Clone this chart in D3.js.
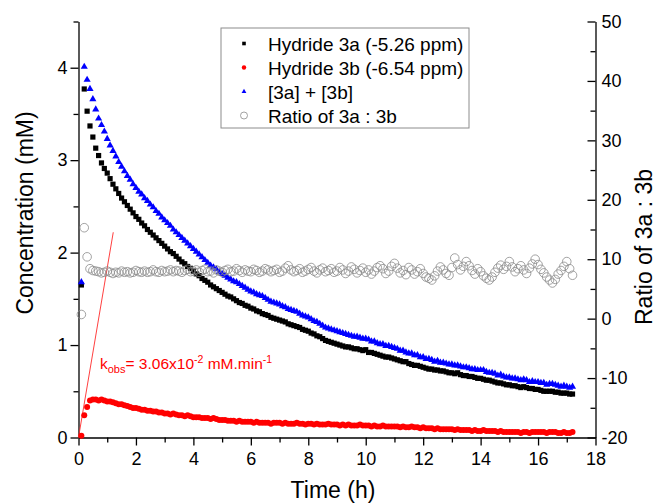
<!DOCTYPE html>
<html lang="en">
<head>
<meta charset="UTF-8">
<title>Hydride 3a / 3b kinetics</title>
<script src="https://cdnjs.cloudflare.com/ajax/libs/d3/7.8.5/d3.min.js"></script>
<style>
    body { margin: 0; background: #fff; }
    svg { font-family: "Liberation Sans", Arial, sans-serif; }
    .axis path, .axis line { stroke: #000; stroke-width: 1.3; }
    .axis text { font-size: 18px; fill: #000; font-family: "Liberation Sans", Arial, sans-serif; }
    .title { font-size: 23px; fill: #000; }
    .legend text { font-size: 19px; fill: #000; }
</style>
</head>
<body>
<svg id="chart" width="657" height="503"></svg>
<script>
// time of each spectrum (h)
const time = [
    0.1,0.2,0.3,0.4,0.5,0.6,0.7,0.8,0.9,1.0,
    1.1,1.2,1.3,1.4,1.5,1.6,1.7,1.8,1.9,2.0,
    2.1,2.2,2.3,2.4,2.5,2.6,2.7,2.8,2.9,3.0,
    3.1,3.2,3.3,3.4,3.5,3.6,3.7,3.8,3.9,4.0,
    4.1,4.2,4.3,4.4,4.5,4.6,4.7,4.8,4.9,5.0,
    5.1,5.2,5.3,5.4,5.5,5.6,5.7,5.8,5.9,6.0,
    6.1,6.2,6.3,6.4,6.5,6.6,6.7,6.8,6.9,7.0,
    7.1,7.2,7.3,7.4,7.5,7.6,7.7,7.8,7.9,8.0,
    8.1,8.2,8.3,8.4,8.5,8.6,8.7,8.8,8.9,9.0,
    9.1,9.2,9.3,9.4,9.5,9.6,9.7,9.8,9.9,10.0,
    10.1,10.2,10.3,10.4,10.5,10.6,10.7,10.8,10.9,11.0,
    11.1,11.2,11.3,11.4,11.5,11.6,11.7,11.8,11.9,12.0,
    12.1,12.2,12.3,12.4,12.5,12.6,12.7,12.8,12.9,13.0,
    13.1,13.2,13.3,13.4,13.5,13.6,13.7,13.8,13.9,14.0,
    14.1,14.2,14.3,14.4,14.5,14.6,14.7,14.8,14.9,15.0,
    15.1,15.2,15.3,15.4,15.5,15.6,15.7,15.8,15.9,16.0,
    16.1,16.2,16.3,16.4,16.5,16.6,16.7,16.8,16.9,17.0,
    17.1,17.2
];

// Hydride 3a (mM)
const hydride3a = [
    1.65,3.77,3.53,3.37,3.25,3.13,3.05,2.97,2.91,2.86,
    2.80,2.74,2.69,2.64,2.59,2.55,2.51,2.47,2.43,2.39,
    2.36,2.32,2.29,2.25,2.22,2.19,2.16,2.13,2.10,2.07,
    2.04,2.01,1.99,1.96,1.93,1.90,1.88,1.85,1.83,1.80,
    1.77,1.75,1.72,1.70,1.68,1.65,1.63,1.61,1.59,1.57,
    1.55,1.53,1.52,1.50,1.48,1.46,1.45,1.43,1.42,1.40,
    1.39,1.37,1.36,1.34,1.33,1.32,1.30,1.29,1.28,1.27,
    1.26,1.25,1.23,1.22,1.21,1.20,1.19,1.17,1.16,1.15,
    1.13,1.12,1.10,1.09,1.07,1.05,1.04,1.03,1.02,1.01,
    1.00,0.99,0.98,0.98,0.97,0.96,0.96,0.95,0.94,0.95,
    0.92,0.92,0.91,0.90,0.89,0.88,0.87,0.87,0.86,0.85,
    0.84,0.83,0.82,0.82,0.80,0.79,0.78,0.78,0.77,0.76,
    0.75,0.74,0.74,0.73,0.73,0.72,0.72,0.71,0.70,0.70,
    0.69,0.70,0.68,0.67,0.67,0.66,0.66,0.65,0.64,0.64,
    0.63,0.62,0.62,0.61,0.60,0.59,0.59,0.58,0.57,0.57,
    0.56,0.56,0.55,0.54,0.55,0.54,0.53,0.53,0.52,0.52,
    0.51,0.50,0.50,0.50,0.50,0.49,0.49,0.48,0.48,0.48,
    0.47,0.47
];

// Hydride 3b (mM)
const hydride3b = [
    0.02,0.24,0.33,0.40,0.41,0.41,0.40,0.41,0.40,0.39,
    0.39,0.38,0.37,0.36,0.36,0.35,0.34,0.33,0.32,0.32,
    0.31,0.30,0.30,0.29,0.29,0.28,0.28,0.27,0.27,0.26,
    0.26,0.25,0.26,0.25,0.24,0.24,0.23,0.24,0.23,0.22,
    0.22,0.22,0.21,0.21,0.21,0.20,0.21,0.20,0.19,0.19,
    0.19,0.18,0.18,0.18,0.17,0.18,0.17,0.17,0.17,0.17,
    0.16,0.17,0.16,0.16,0.16,0.16,0.15,0.16,0.16,0.16,
    0.15,0.16,0.15,0.15,0.15,0.16,0.15,0.15,0.14,0.15,
    0.15,0.14,0.15,0.14,0.14,0.14,0.15,0.14,0.14,0.14,
    0.13,0.14,0.13,0.14,0.13,0.13,0.13,0.14,0.13,0.13,
    0.13,0.12,0.13,0.12,0.12,0.13,0.12,0.12,0.12,0.12,
    0.12,0.11,0.12,0.11,0.11,0.12,0.11,0.11,0.10,0.11,
    0.10,0.10,0.10,0.09,0.10,0.09,0.09,0.09,0.09,0.09,
    0.08,0.09,0.08,0.08,0.08,0.08,0.07,0.08,0.07,0.07,
    0.08,0.07,0.07,0.07,0.07,0.06,0.07,0.06,0.06,0.06,
    0.06,0.06,0.06,0.05,0.06,0.06,0.05,0.06,0.06,0.06,
    0.06,0.06,0.05,0.06,0.06,0.06,0.05,0.05,0.06,0.05,
    0.05,0.06
];

// [3a] + [3b] (mM)
const total = [
    1.68,4.01,3.87,3.77,3.66,3.55,3.45,3.38,3.31,3.23,
    3.16,3.10,3.04,2.98,2.93,2.88,2.83,2.79,2.74,2.70,
    2.66,2.63,2.59,2.56,2.52,2.49,2.45,2.42,2.38,2.35,
    2.32,2.29,2.25,2.22,2.19,2.16,2.13,2.10,2.07,2.04,
    2.01,1.98,1.95,1.92,1.89,1.86,1.84,1.82,1.79,1.77,
    1.75,1.73,1.71,1.69,1.68,1.66,1.64,1.62,1.60,1.58,
    1.57,1.55,1.54,1.53,1.51,1.49,1.47,1.46,1.45,1.44,
    1.42,1.41,1.39,1.38,1.37,1.36,1.34,1.32,1.31,1.30,
    1.28,1.26,1.25,1.23,1.21,1.19,1.18,1.17,1.16,1.15,
    1.14,1.13,1.12,1.11,1.10,1.09,1.09,1.08,1.07,1.07,
    1.06,1.04,1.04,1.02,1.01,1.01,0.99,0.99,0.98,0.97,
    0.96,0.94,0.94,0.92,0.91,0.91,0.89,0.89,0.87,0.87,
    0.85,0.85,0.84,0.82,0.83,0.81,0.81,0.80,0.79,0.79,
    0.78,0.78,0.77,0.76,0.76,0.75,0.74,0.74,0.73,0.73,
    0.73,0.71,0.70,0.70,0.69,0.67,0.68,0.66,0.65,0.65,
    0.64,0.64,0.63,0.62,0.63,0.62,0.60,0.61,0.60,0.60,
    0.59,0.59,0.57,0.58,0.58,0.57,0.56,0.55,0.56,0.55,
    0.54,0.55
];

// ratio 3a : 3b (right axis)
const ratio = [
    0.7,15.3,10.4,8.4,8.1,8.0,7.9,7.7,7.8,8.0,
    7.8,7.6,7.8,7.7,8.0,7.8,7.9,7.7,7.8,8.1,
    7.9,7.8,8.0,7.8,7.9,8.2,7.9,7.8,8.1,7.9,
    8.0,8.2,7.9,8.1,8.0,7.8,8.1,8.3,7.9,8.0,
    8.2,7.8,8.1,8.3,7.9,8.0,7.7,8.2,8.0,7.8,
    8.1,8.3,7.9,8.0,8.4,8.1,7.8,8.2,8.0,7.9,
    8.3,8.1,7.8,8.0,8.4,8.2,7.9,8.1,8.3,7.8,
    8.0,8.5,8.9,8.2,7.9,8.1,8.4,7.8,8.0,8.3,
    8.6,8.0,7.7,8.2,8.5,7.9,8.1,8.4,7.8,8.0,
    8.6,8.2,7.6,8.0,8.7,8.3,7.7,8.1,8.5,7.8,
    8.2,7.5,8.0,8.6,8.9,8.4,7.6,8.0,8.8,9.3,
    8.5,7.7,8.1,7.4,8.6,8.2,7.5,7.9,8.4,7.6,
    7.0,6.8,6.5,7.2,8.0,8.7,8.2,7.6,7.3,8.6,
    10.2,9.1,8.2,8.8,9.6,8.9,8.1,7.5,8.4,7.9,
    7.2,6.8,6.5,7.0,7.8,8.5,9.0,8.3,8.8,9.6,
    8.7,7.9,8.4,8.9,8.2,7.6,8.5,9.2,10.0,9.1,
    8.3,7.7,7.0,6.5,6.0,6.6,7.5,8.1,8.8,9.6,
    8.4,7.3
];

// initial-rate fit: [time (h), conc (mM)]
const fitLine = [[0, 0], [1.21, 2.22]];

const legendLabels = ["Hydride 3a (-5.26 ppm)", "Hydride 3b (-6.54 ppm)", "[3a] + [3b]", "Ratio of 3a : 3b"];
const timeTicks = [0, 2, 4, 6, 8, 10, 12, 14, 16, 18];
const timeMinor = [1, 3, 5, 7, 9, 11, 13, 15, 17];
const concTicks = [0, 1, 2, 3, 4];
const concMinor = [0.5, 1.5, 2.5, 3.5, 4.5];
const ratioTicks = [-20, -10, 0, 10, 20, 30, 40, 50];
const ratioMinor = [-15, -5, 5, 15, 25, 35, 45];

const svg = d3.select('#chart');

let x = d3.scaleLinear().domain([0, 18]).range([78.5, 595.5]);
let y = d3.scaleLinear().domain([0, 4.5]).range([437.5, 21.5]);
let yR = d3.scaleLinear().domain([-20, 50]).range([437.5, 21.5]);

// axes
svg.append('g').attr('class', 'axis')
    .attr('transform', 'translate(0,437.5)')
    .call(d3.axisBottom(x).tickValues(timeTicks).tickSize(8).tickSizeOuter(0).tickPadding(7));
svg.append('g').attr('class', 'axis')
    .attr('transform', 'translate(0,437.5)')
    .call(d3.axisBottom(x).tickValues(timeMinor).tickSize(5).tickFormat(''))
    .select('.domain').remove();

svg.append('g').attr('class', 'axis')
    .attr('transform', 'translate(78.5,0)')
    .call(d3.axisLeft(y).tickValues(concTicks).tickSize(8).tickSizeOuter(0).tickPadding(3)
        .tickFormat(d3.format('d')));
svg.append('g').attr('class', 'axis')
    .attr('transform', 'translate(78.5,0)')
    .call(d3.axisLeft(y).tickValues(concMinor).tickSize(5).tickFormat(''))
    .select('.domain').remove();

svg.append('g').attr('class', 'axis')
    .attr('transform', 'translate(595.5,0)')
    .call(d3.axisRight(yR).tickValues(ratioTicks).tickSizeInner(-8).tickSizeOuter(0).tickPadding(6)
        .tickFormat(d => d < 0 ? '-' + Math.abs(d) : d));
svg.append('g').attr('class', 'axis')
    .attr('transform', 'translate(595.5,0)')
    .call(d3.axisRight(yR).tickValues(ratioMinor).tickSizeInner(-5).tickFormat(''))
    .select('.domain').remove();

// axis titles
svg.append('text').attr('class', 'title')
    .attr('text-anchor', 'middle')
    .attr('transform', 'translate(33,213) rotate(-90)')
    .text('Concentration (mM)');
svg.append('text').attr('class', 'title')
    .attr('text-anchor', 'middle')
    .attr('x', 333).attr('y', 498)
    .text('Time (h)');
svg.append('text').attr('class', 'title')
    .attr('text-anchor', 'middle')
    .attr('transform', 'translate(652,247) rotate(-90)')
    .text('Ratio of 3a : 3b');

// fit line
svg.append('path')
    .datum(fitLine)
    .attr('d', d3.line().x(d => x(d[0])).y(d => y(d[1])))
    .attr('fill', 'none')
    .attr('stroke', '#ff2a2a')
    .attr('stroke-width', 0.9);

let pts = time.map((t, i) => ({t: t, a: hydride3a[i], b: hydride3b[i], s: total[i], r: ratio[i]}));

let square = d3.symbol(d3.symbolSquare, 27);
let tri = d3.symbol(d3.symbolTriangle, 22);

svg.append('g').selectAll('path')
    .data(pts).enter().append('path')
    .attr('d', square)
    .attr('transform', d => 'translate(' + x(d.t) + ',' + y(d.a) + ')')
    .attr('fill', '#000');

svg.append('g').selectAll('circle')
    .data(pts).enter().append('circle')
    .attr('cx', d => x(d.t)).attr('cy', d => y(d.b))
    .attr('r', 3)
    .attr('fill', '#ff0000');

svg.append('g').selectAll('path')
    .data(pts).enter().append('path')
    .attr('d', tri)
    .attr('transform', d => 'translate(' + x(d.t) + ',' + y(d.s) + ')')
    .attr('fill', '#0000ff');

svg.append('g').selectAll('circle')
    .data(pts).enter().append('circle')
    .attr('cx', d => x(d.t)).attr('cy', d => yR(d.r))
    .attr('r', 4.3)
    .attr('fill', 'none')
    .attr('stroke', '#8a8a8a')
    .attr('stroke-width', 0.8);

// kobs annotation
let note = svg.append('text')
    .attr('x', 100).attr('y', 369)
    .attr('fill', '#ff0000')
    .style('font-size', '15.5px');
note.append('tspan').text('k');
note.append('tspan').attr('dy', 4).style('font-size', '11px').text('obs');
note.append('tspan').attr('dy', -4).text('= 3.06x10');
note.append('tspan').attr('dy', -6).style('font-size', '10.5px').text('-2');
note.append('tspan').attr('dy', 6).text(' mM.min');
note.append('tspan').attr('dy', -6).style('font-size', '10.5px').text('-1');

// legend
let legend = svg.append('g').attr('class', 'legend');
legend.append('rect')
    .attr('x', 221).attr('y', 28).attr('width', 248).attr('height', 100)
    .attr('fill', '#fff').attr('stroke', '#8c8c8c').attr('stroke-width', 1);

let rowY = i => 43.5 + i * 24;
legend.append('path').attr('d', d3.symbol(d3.symbolSquare, 13)())
    .attr('transform', 'translate(244,' + rowY(0) + ')').attr('fill', '#000');
legend.append('circle').attr('cx', 244).attr('cy', rowY(1)).attr('r', 2.2).attr('fill', '#ff0000');
legend.append('path').attr('d', d3.symbol(d3.symbolTriangle, 10)())
    .attr('transform', 'translate(244,' + rowY(2) + ')').attr('fill', '#0000ff');
legend.append('circle').attr('cx', 244).attr('cy', rowY(3)).attr('r', 3.5)
    .attr('fill', 'none').attr('stroke', '#8a8a8a').attr('stroke-width', 0.8);

legend.selectAll('text')
    .data(legendLabels).enter().append('text')
    .attr('x', 268)
    .attr('y', (d, i) => rowY(i) + 7)
    .text(d => d);
</script>
</body>
</html>
